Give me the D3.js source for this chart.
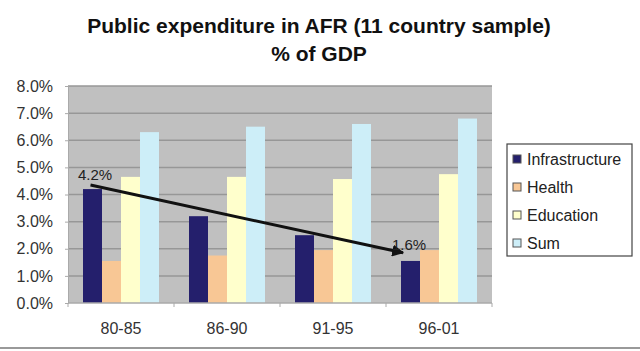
<!DOCTYPE html>
<html>
<head>
<meta charset="utf-8">
<script src="https://cdn.jsdelivr.net/npm/d3@7"></script>
<style>
  body { margin: 0; background: #fff; }
  text { font-family: "Liberation Sans", Arial, sans-serif; }
</style>
</head>
<body>
<svg id="chart"></svg>
<script>
// Data (% of GDP)
const periods = ["80-85", "86-90", "91-95", "96-01"];
const seriesNames = ["Infrastructure", "Health", "Education", "Sum"];
const infrastructure = [4.2, 3.2, 2.5, 1.55];
const health = [1.55, 1.75, 1.95, 1.95];
const education = [4.65, 4.65, 4.57, 4.75];
const sum = [6.3, 6.5, 6.6, 6.8];
const yTicks = [0, 1, 2, 3, 4, 5, 6, 7, 8];
const colors = ["#241f6c", "#f8c795", "#ffffcc", "#cdeef8"];

// trend arrow annotation: [period, value]
const arrowFrom = ["80-85", 4.35];
const arrowTo = ["96-01", 1.85];
const arrowLabels = ["4.2%", "1.6%"];

const width = 640, height = 351;
const margin = { top: 86, right: 148, bottom: 48, left: 68 };

const svg = d3.select("#chart").attr("width", width).attr("height", height);

const x0 = d3.scaleBand().domain(periods)
  .range([margin.left, width - margin.right]);
const x1 = d3.scaleBand().domain(seriesNames)
  .range([15, x0.bandwidth() - 15]);
const y = d3.scaleLinear().domain([0, 8])
  .range([height - margin.bottom, margin.top]);

const allSeries = [infrastructure, health, education, sum];

// title
svg.append("text").attr("x", 319).attr("y", 33)
  .attr("text-anchor", "middle").style("font-weight", "bold").style("font-size", "21px")
  .attr("fill", "#111").text("Public expenditure in AFR (11 country sample)");
svg.append("text").attr("x", 319).attr("y", 61)
  .attr("text-anchor", "middle").style("font-weight", "bold").style("font-size", "21px")
  .attr("fill", "#111").text("% of GDP");

// plot background
svg.append("rect")
  .attr("x", margin.left).attr("y", margin.top)
  .attr("width", width - margin.right - margin.left)
  .attr("height", height - margin.bottom - margin.top)
  .attr("fill", "#c0c0c0");

// gridlines
svg.append("g").selectAll("line").data(yTicks.slice(1)).enter().append("line")
  .attr("x1", margin.left).attr("x2", width - margin.right)
  .attr("y1", d => y(d)).attr("y2", d => y(d))
  .attr("stroke", "#979797").attr("stroke-width", 1.5);

// y axis
const yAxis = svg.append("g").attr("transform", "translate(" + margin.left + ",0)")
  .call(d3.axisLeft(y).tickValues(yTicks).tickSize(3).tickPadding(12)
    .tickFormat(d => d.toFixed(1) + "%"));
yAxis.select(".domain").attr("stroke", "#aaa");
yAxis.selectAll(".tick line").attr("stroke", "#aaa");
yAxis.selectAll("text").style("font-size", "16px").attr("fill", "#333");

// bars
const groups = svg.append("g").selectAll("g").data(periods).enter().append("g")
  .attr("transform", d => "translate(" + x0(d) + ",0)");
groups.selectAll("rect")
  .data((p, i) => seriesNames.map((s, j) => ({ s: s, v: allSeries[j][i], c: colors[j] })))
  .enter().append("rect")
  .attr("x", d => x1(d.s))
  .attr("y", d => y(d.v))
  .attr("width", x1.bandwidth())
  .attr("height", d => y(0) - y(d.v))
  .attr("fill", d => d.c);

// x axis
const xAxisG = svg.append("g").attr("transform", "translate(0," + y(0) + ")");
xAxisG.append("line").attr("x1", margin.left).attr("x2", width - margin.right)
  .attr("stroke", "#aaa").attr("stroke-width", 1.5);
const bounds = periods.map(p => x0(p)).concat([width - margin.right]);
xAxisG.selectAll(".tk").data(bounds).enter().append("line")
  .attr("x1", d => d).attr("x2", d => d).attr("y1", 0).attr("y2", 4)
  .attr("stroke", "#aaa");
xAxisG.selectAll(".lbl").data(periods).enter().append("text")
  .attr("x", d => x0(d) + x0.bandwidth() / 2).attr("y", 31)
  .attr("text-anchor", "middle").style("font-size", "16px").attr("fill", "#333")
  .text(d => d);

// trend arrow
svg.append("defs").append("marker")
  .attr("id", "head").attr("viewBox", "0 0 10 10").attr("refX", 9).attr("refY", 5)
  .attr("markerWidth", 4).attr("markerHeight", 4).attr("orient", "auto")
  .append("path").attr("d", "M0,0 L10,5 L0,10 z").attr("fill", "#111");
const ax1 = x0(arrowFrom[0]) + x1("Infrastructure") + x1.bandwidth() / 2 - 2;
const ax2 = x0(arrowTo[0]) + x1("Infrastructure") + 2;
svg.append("line")
  .attr("x1", ax1).attr("y1", y(arrowFrom[1]))
  .attr("x2", ax2).attr("y2", y(arrowTo[1]))
  .attr("stroke", "#111").attr("stroke-width", 3).attr("marker-end", "url(#head)");
svg.append("text").attr("x", x0(arrowFrom[0]) + x1("Infrastructure") - 5)
  .attr("y", y(arrowFrom[1]) - 5).style("font-size", "15px").attr("fill", "#222")
  .text(arrowLabels[0]);
svg.append("text").attr("x", x0(arrowTo[0]) + x1("Infrastructure") - 9)
  .attr("y", y(arrowTo[1]) - 3).style("font-size", "15px").attr("fill", "#222")
  .text(arrowLabels[1]);

// legend
const legend = svg.append("g").attr("transform", "translate(507,144)");
legend.append("rect").attr("width", 125).attr("height", 112)
  .attr("fill", "#fff").attr("stroke", "#444").attr("stroke-width", 1.2);
const items = legend.selectAll("g").data(seriesNames).enter().append("g")
  .attr("transform", (d, i) => "translate(0," + (15 + i * 28) + ")");
items.append("rect").attr("x", 6).attr("y", -4).attr("width", 8).attr("height", 8)
  .attr("fill", (d, i) => colors[i]).attr("stroke", "#555").attr("stroke-width", 1);
items.append("text").attr("x", 20).attr("y", 6)
  .style("font-size", "16px").attr("fill", "#222").text(d => d);

// bottom frame line
svg.append("line").attr("x1", 0).attr("x2", width).attr("y1", 348).attr("y2", 348)
  .attr("stroke", "#999").attr("stroke-width", 2);
</script>
</body>
</html>
